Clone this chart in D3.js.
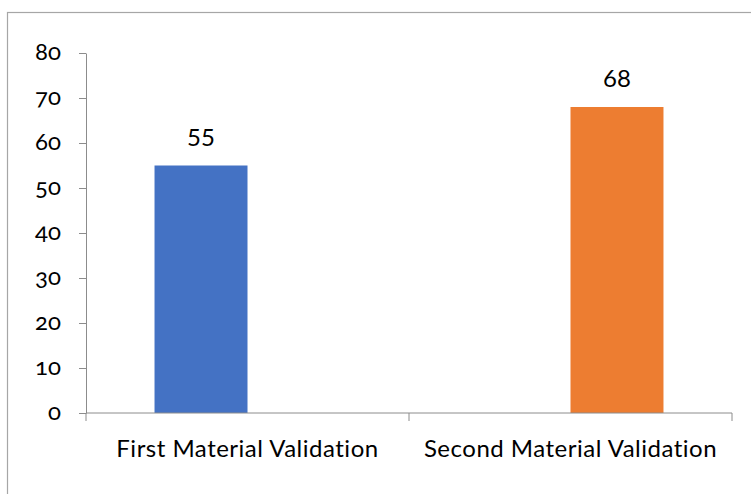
<!DOCTYPE html>
<html>
<head>
<meta charset="utf-8">
<script src="https://cdn.jsdelivr.net/npm/d3@7"></script>
<style>
  html, body { margin: 0; padding: 0; background: #fff; }
  svg { display: block; }
  text { font-family: Lato, "Open Sans", sans-serif; fill: #000; }
  .ytick text { font-variant-numeric: oldstyle-nums; font-feature-settings: "onum" 1; }
</style>
</head>
<body>
<svg id="chart" width="751" height="494"></svg>
<script>
// Two validation rounds, each drawn as its own series in a clustered layout
const categories = ["First Material Validation", "Second Material Validation"];
const seriesNames = ["First", "Second"];
const seriesValues = [55, 68];           // value of each series in its own category
const seriesColors = ["#4472C4", "#ED7D31"];
const yTicks = [0, 10, 20, 30, 40, 50, 60, 70, 80];

const svg = d3.select("#chart");
const W = 751, H = 494;
const margin = { left: 86, right: 19, top: 53, bottom: 81 };
const axisColor = "#8c8c8c";
const fontSize = 24;

// Chart frame (runs off the right and bottom edge)
svg.append("rect")
  .attr("x", 7.5).attr("y", 12.5)
  .attr("width", 800).attr("height", 600)
  .attr("fill", "none").attr("stroke", "#a6a6a6").attr("stroke-width", 1.2);

const x = d3.scaleBand()
  .domain(categories)
  .range([margin.left, W - margin.right])
  .paddingInner(0).paddingOuter(0);

const xSub = d3.scaleBand()
  .domain(seriesNames)
  .range([0, x.bandwidth()])
  .paddingInner(0).paddingOuter(0.737);

const y = d3.scaleLinear()
  .domain([0, 80])
  .range([H - margin.bottom, margin.top]);

// Bars: series i sits in category i
const bars = seriesValues.map((v, i) => ({ cat: categories[i], series: seriesNames[i], value: v, color: seriesColors[i] }));

svg.append("g").selectAll("rect")
  .data(bars)
  .join("rect")
  .attr("x", d => x(d.cat) + xSub(d.series))
  .attr("y", d => y(d.value))
  .attr("width", xSub.bandwidth())
  .attr("height", d => y(0) - y(d.value))
  .attr("fill", d => d.color);

// Value labels
svg.append("g").selectAll("text")
  .data(bars)
  .join("text")
  .attr("x", d => x(d.cat) + xSub(d.series) + xSub.bandwidth() / 2)
  .attr("y", d => y(d.value) - 20)
  .attr("text-anchor", "middle")
  .attr("font-size", fontSize)
  .text(d => d.value);

// Y axis
const yAxis = svg.append("g")
  .attr("class", "ytick")
  .attr("transform", `translate(${margin.left},0)`)
  .call(d3.axisLeft(y).tickValues(yTicks).tickSize(7).tickPadding(18).tickSizeOuter(0));
yAxis.select(".domain").attr("stroke", axisColor);
yAxis.selectAll(".tick line").attr("stroke", axisColor);
yAxis.selectAll(".tick text")
  .attr("font-size", fontSize)
  .attr("font-family", "Lato, 'Open Sans', sans-serif")
  .attr("fill", "#000")
  .attr("dy", "0.25em");

// X axis with boundary ticks between categories
const xAxisG = svg.append("g")
  .attr("transform", `translate(0,${y(0)})`);
xAxisG.append("line")
  .attr("x1", margin.left).attr("x2", W - margin.right)
  .attr("y1", 0).attr("y2", 0)
  .attr("stroke", axisColor);
const boundaries = categories.map(c => x(c)).concat([x(categories[categories.length - 1]) + x.bandwidth()]);
xAxisG.selectAll("line.b")
  .data(boundaries)
  .join("line")
  .attr("class", "b")
  .attr("x1", d => d).attr("x2", d => d)
  .attr("y1", 0).attr("y2", 8)
  .attr("stroke", axisColor);
xAxisG.selectAll("text")
  .data(categories)
  .join("text")
  .attr("x", d => x(d) + x.bandwidth() / 2)
  .attr("y", 44)
  .attr("text-anchor", "middle")
  .attr("font-size", fontSize)
  .attr("letter-spacing", 0.5)
  .text(d => d);
</script>
</body>
</html>
